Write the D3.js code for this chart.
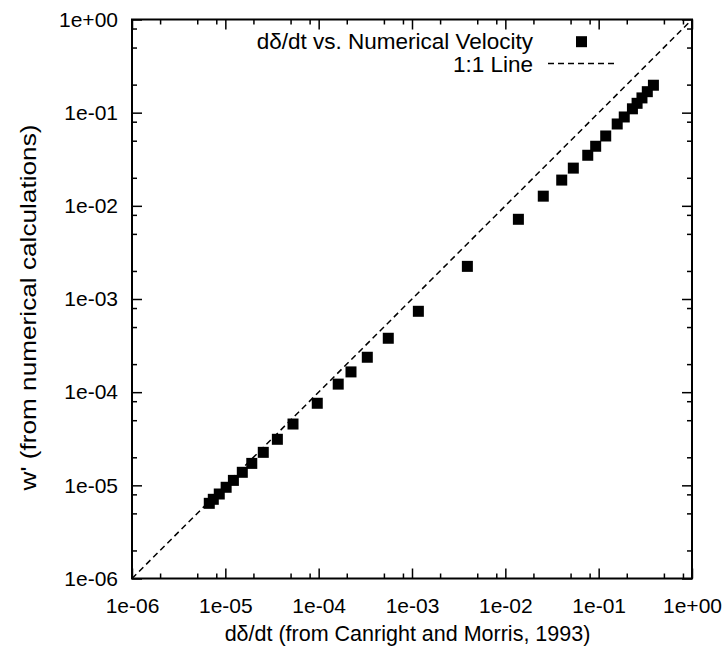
<!DOCTYPE html>
<html>
<head>
<meta charset="utf-8">
<script src="https://cdn.jsdelivr.net/npm/d3@7"></script>
<style>
  html, body { margin: 0; padding: 0; background: #fff; }
  svg { display: block; }
  text { font-family: "Liberation Sans", Arial, Helvetica, sans-serif; fill: #000; }
</style>
</head>
<body>
<svg id="chart" width="725" height="649"></svg>
<script>
// ---- Data ----
const xValues = [6.73e-6, 7.43e-6, 8.61e-6, 1.02e-5, 1.22e-5, 1.52e-5, 1.92e-5, 2.55e-5, 3.61e-5, 5.31e-5,
                 9.66e-5, 1.62e-4, 2.22e-4, 3.32e-4, 5.57e-4, 1.17e-3, 3.92e-3, 1.38e-2, 2.55e-2, 4.02e-2,
                 5.35e-2, 7.64e-2, 9.29e-2, 0.119, 0.158, 0.188, 0.230, 0.258, 0.291, 0.332, 0.386];
const yValues = [6.41e-6, 7.08e-6, 8.07e-6, 9.53e-6, 1.13e-5, 1.38e-5, 1.72e-5, 2.26e-5, 3.12e-5, 4.55e-5,
                 7.60e-5, 1.22e-4, 1.65e-4, 2.37e-4, 3.79e-4, 7.38e-4, 2.24e-3, 7.17e-3, 1.27e-2, 1.89e-2,
                 2.54e-2, 3.49e-2, 4.36e-2, 5.62e-2, 7.56e-2, 8.99e-2, 0.110, 0.126, 0.144, 0.168, 0.197];
const oneToOne = [1e-6, 1];
const majorTicks = [1e-6, 1e-5, 1e-4, 1e-3, 1e-2, 1e-1, 1];
const tickLabels = ["1e-06", "1e-05", "1e-04", "1e-03", "1e-02", "1e-01", "1e+00"];
const minorMultipliers = [2, 5, 8];
const seriesLabel = "d\u03B4/dt vs. Numerical Velocity";
const lineLabel = "1:1 Line";
const xTitle = "d\u03B4/dt (from Canright and Morris, 1993)";
const yTitle = "w' (from numerical calculations)";

// ---- Layout ----
const L = 132, R = 692, T = 19.5, B = 578.5;
const svg = d3.select("#chart");

const x = d3.scaleLog().domain([1e-6, 1]).range([L, R]);
const y = d3.scaleLog().domain([1e-6, 1]).range([B, T]);

const minorTicks = [];
majorTicks.slice(0, -1).forEach(d => minorMultipliers.forEach(m => minorTicks.push(d * m)));

const tickFont = 21, legendFont = 22.5, xTitleFont = 21.5, yTitleFont = 22;
const majorLen = 10, minorLen = 5;

function drawAxis(axisGen, transform, labels) {
  const g = svg.append("g").attr("transform", transform).call(axisGen);
  g.select(".domain").remove();
  g.selectAll("line").attr("stroke", "#000").attr("stroke-width", 1.5);
  g.selectAll("text").style("font-size", tickFont + "px").attr("fill", "#000");
  if (!labels) g.selectAll("text").remove();
  return g;
}
const fmt = d => tickLabels[majorTicks.indexOf(d)];

// bottom
drawAxis(d3.axisBottom(x).tickValues(majorTicks).tickFormat(fmt).tickSizeInner(-majorLen).tickSizeOuter(0).tickPadding(majorLen + 10),
  `translate(0,${B})`, true);
drawAxis(d3.axisBottom(x).tickValues(minorTicks).tickFormat("").tickSizeInner(-minorLen).tickSizeOuter(0),
  `translate(0,${B})`, false);
// top
drawAxis(d3.axisTop(x).tickValues(majorTicks).tickFormat("").tickSizeInner(-majorLen).tickSizeOuter(0),
  `translate(0,${T})`, false);
drawAxis(d3.axisTop(x).tickValues(minorTicks).tickFormat("").tickSizeInner(-minorLen).tickSizeOuter(0),
  `translate(0,${T})`, false);
// left
drawAxis(d3.axisLeft(y).tickValues(majorTicks).tickFormat(fmt).tickSizeInner(-majorLen).tickSizeOuter(0).tickPadding(majorLen + 4),
  `translate(${L},0)`, true);
drawAxis(d3.axisLeft(y).tickValues(minorTicks).tickFormat("").tickSizeInner(-minorLen).tickSizeOuter(0),
  `translate(${L},0)`, false);
// right
drawAxis(d3.axisRight(y).tickValues(majorTicks).tickFormat("").tickSizeInner(-majorLen).tickSizeOuter(0),
  `translate(${R},0)`, false);
drawAxis(d3.axisRight(y).tickValues(minorTicks).tickFormat("").tickSizeInner(-minorLen).tickSizeOuter(0),
  `translate(${R},0)`, false);

// Frame
svg.append("rect").attr("x", L).attr("y", T).attr("width", R - L).attr("height", B - T)
  .attr("fill", "none").attr("stroke", "#000").attr("stroke-width", 2);

// 1:1 line
svg.append("line")
  .attr("x1", x(oneToOne[0])).attr("y1", y(oneToOne[0]))
  .attr("x2", x(oneToOne[1])).attr("y2", y(oneToOne[1]))
  .attr("stroke", "#000").attr("stroke-width", 1.5).attr("stroke-dasharray", "6,4");

// Points
const sq = 11;
const pts = xValues.map((v, i) => [v, yValues[i]]);
svg.append("g").selectAll("rect").data(pts).join("rect")
  .attr("x", d => x(d[0]) - sq / 2).attr("y", d => y(d[1]) - sq / 2)
  .attr("width", sq).attr("height", sq).attr("fill", "#000");

// Legend
const legText = 533, legSym = 581.5;
svg.append("text").attr("x", legText).attr("y", 48.5).attr("text-anchor", "end")
  .style("font-size", legendFont + "px").text(seriesLabel);
svg.append("rect").attr("x", legSym - sq / 2).attr("y", 41.7 - sq / 2).attr("width", sq).attr("height", sq).attr("fill", "#000");
svg.append("text").attr("x", legText).attr("y", 71.5).attr("text-anchor", "end")
  .style("font-size", legendFont + "px").text(lineLabel);
svg.append("line").attr("x1", 548).attr("x2", 615).attr("y1", 63.5).attr("y2", 63.5)
  .attr("stroke", "#000").attr("stroke-width", 1.5).attr("stroke-dasharray", "6,4");

// Axis titles
svg.append("text").attr("x", 407.5).attr("y", 641).attr("text-anchor", "middle")
  .style("font-size", xTitleFont + "px").text(xTitle);
svg.append("text").attr("transform", `translate(36,307.5) rotate(-90)`).attr("text-anchor", "middle")
  .attr("textLength", 366).attr("lengthAdjust", "spacingAndGlyphs")
  .style("font-size", yTitleFont + "px").text(yTitle);
</script>
</body>
</html>
